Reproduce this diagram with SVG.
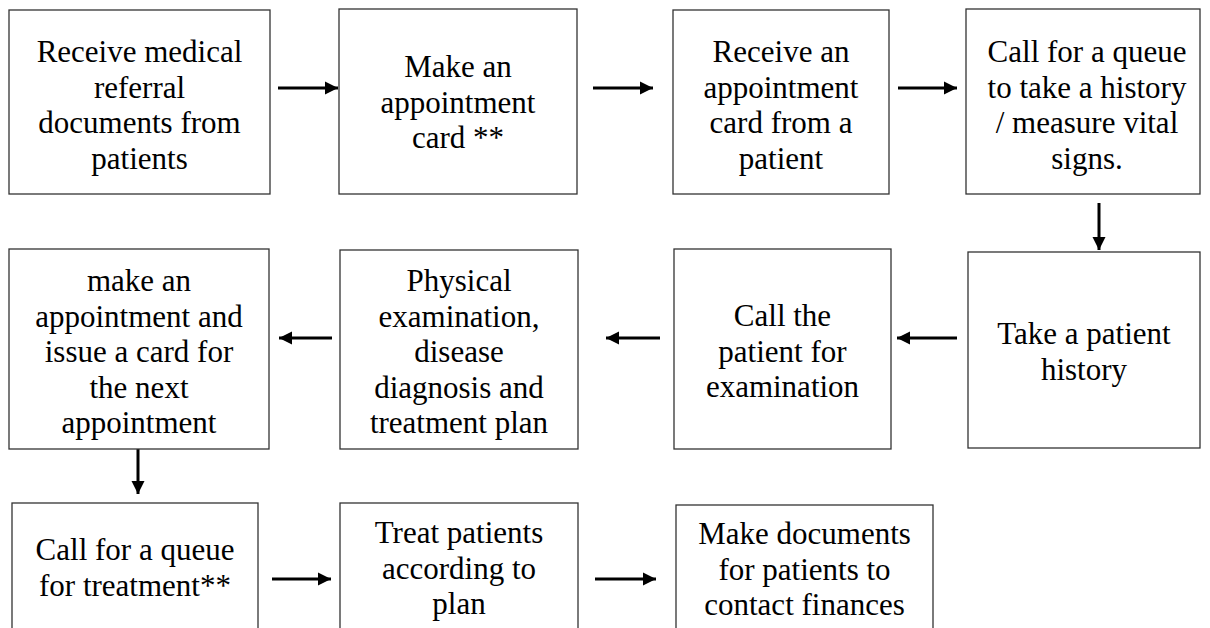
<svg xmlns="http://www.w3.org/2000/svg" width="1210" height="628" viewBox="0 0 1210 628">
<style>
  .box { fill: #ffffff; stroke: #333333; stroke-width: 1.3; }
  .lbl { font-family: 'Liberation Serif', 'DejaVu Serif', 'Times New Roman', serif; font-size: 31px; fill: #000000; text-anchor: middle; }
  .arr { stroke: #000000; stroke-width: 3; fill: none; marker-end: url(#ah); }
</style>
<defs>
  <marker id="ah" viewBox="0 0 10 10" refX="10" refY="5" markerWidth="4.4" markerHeight="4.4" markerUnits="strokeWidth" orient="auto">
    <path d="M0,0 L10,5 L0,10 Z" fill="#000000"/>
  </marker>
</defs>
<rect width="1210" height="628" fill="#ffffff"/>

<g id="connectors">
  <line class="arr" x1="278" y1="88" x2="338" y2="88"/>
  <line class="arr" x1="593" y1="88" x2="653" y2="88"/>
  <line class="arr" x1="898" y1="88" x2="957" y2="88"/>
  <line class="arr" x1="1099" y1="203" x2="1099" y2="250"/>
  <line class="arr" x1="957" y1="338" x2="897" y2="338"/>
  <line class="arr" x1="660" y1="338" x2="606" y2="338"/>
  <line class="arr" x1="332" y1="338" x2="279" y2="338"/>
  <line class="arr" x1="138" y1="449" x2="138" y2="494"/>
  <line class="arr" x1="272" y1="579" x2="331" y2="579"/>
  <line class="arr" x1="595" y1="579" x2="656" y2="579"/>
</g>

<g font-family="'Liberation Serif', 'DejaVu Serif', serif">
<g id="n1">
  <rect class="box" x="9" y="10" width="261" height="184"/>
  <text class="lbl" x="139.5" y="62">Receive medical</text>
  <text class="lbl" x="139.5" y="97.5">referral</text>
  <text class="lbl" x="139.5" y="133">documents from</text>
  <text class="lbl" x="139.5" y="168.5">patients</text>
</g>
<g id="n2">
  <rect class="box" x="339" y="9" width="238" height="185"/>
  <text class="lbl" x="458" y="77">Make an</text>
  <text class="lbl" x="458" y="112.5">appointment</text>
  <text class="lbl" x="458" y="148">card **</text>
</g>
<g id="n3">
  <rect class="box" x="673" y="10" width="216" height="184"/>
  <text class="lbl" x="781" y="62">Receive an</text>
  <text class="lbl" x="781" y="97.5">appointment</text>
  <text class="lbl" x="781" y="133">card from a</text>
  <text class="lbl" x="781" y="168.5">patient</text>
</g>
<g id="n4">
  <rect class="box" x="966" y="9" width="234" height="185"/>
  <text class="lbl" x="1087" y="62">Call for a queue</text>
  <text class="lbl" x="1087" y="97.5">to take a history</text>
  <text class="lbl" x="1087" y="133">/ measure vital</text>
  <text class="lbl" x="1087" y="168.5">signs.</text>
</g>
<g id="n5">
  <rect class="box" x="9" y="249" width="260" height="200"/>
  <text class="lbl" x="139" y="291">make an</text>
  <text class="lbl" x="139" y="326.5">appointment and</text>
  <text class="lbl" x="139" y="362">issue a card for</text>
  <text class="lbl" x="139" y="397.5">the next</text>
  <text class="lbl" x="139" y="433">appointment</text>
</g>
<g id="n6">
  <rect class="box" x="340" y="250" width="238" height="199"/>
  <text class="lbl" x="459" y="291">Physical</text>
  <text class="lbl" x="459" y="326.5">examination,</text>
  <text class="lbl" x="459" y="362">disease</text>
  <text class="lbl" x="459" y="397.5">diagnosis and</text>
  <text class="lbl" x="459" y="433">treatment plan</text>
</g>
<g id="n7">
  <rect class="box" x="674" y="249" width="217" height="200"/>
  <text class="lbl" x="782.5" y="326">Call the</text>
  <text class="lbl" x="782.5" y="361.5">patient for</text>
  <text class="lbl" x="782.5" y="397">examination</text>
</g>
<g id="n8">
  <rect class="box" x="968" y="252" width="232" height="196"/>
  <text class="lbl" x="1084" y="344">Take a patient</text>
  <text class="lbl" x="1084" y="379.5">history</text>
</g>
<g id="n9">
  <rect class="box" x="12" y="503" width="246" height="140"/>
  <text class="lbl" x="135" y="560">Call for a queue</text>
  <text class="lbl" x="135" y="595.5">for treatment**</text>
</g>
<g id="n10">
  <rect class="box" x="340" y="503" width="238" height="140"/>
  <text class="lbl" x="459" y="543">Treat patients</text>
  <text class="lbl" x="459" y="578.5">according to</text>
  <text class="lbl" x="459" y="614">plan</text>
</g>
<g id="n11">
  <rect class="box" x="676" y="505" width="257" height="140"/>
  <text class="lbl" x="804.5" y="544">Make documents</text>
  <text class="lbl" x="804.5" y="579.5">for patients to</text>
  <text class="lbl" x="804.5" y="615">contact finances</text>
</g>
</g>
</svg>
